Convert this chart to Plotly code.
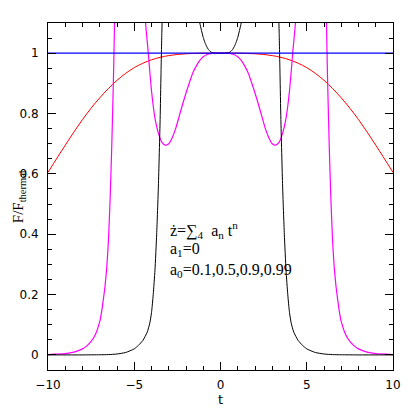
import plotly.graph_objects as go

# blue: a0 = 0.99 (flat)
t_blue = [-10, 10]
f_blue = [1.0, 1.0]

# red: broad curve
t_red = [-10, -9, -8, -7, -6, -5, -4, -3, -2, -1, 0, 1, 2, 3, 4, 5, 6, 7, 8, 9, 10]
f_red = [0.605, 0.695, 0.78, 0.852, 0.91, 0.952, 0.978, 0.992, 0.998, 1.0, 1.0,
         1.0, 0.998, 0.992, 0.978, 0.952, 0.91, 0.852, 0.78, 0.695, 0.605]

# magenta: three branches separated by gaps (None)
t_mag = [-10, -9, -8.5, -8, -7.75, -7.5, -7.25, -7, -6.9, -6.8, -6.7, -6.6, -6.5, -6.4, -6.3, -6.2, -6.15, -6.1,
         None,
         -4.4, -4.3, -4.2, -4.1, -4.0, -3.9, -3.8, -3.6, -3.4, -3.2, -3.0, -2.8, -2.6, -2.4, -2.2, -2.0,
         -1.8, -1.6, -1.4, -1.2, -1.0, -0.8, -0.6, -0.4, -0.2, 0,
         0.2, 0.4, 0.6, 0.8, 1.0, 1.2, 1.4, 1.6, 1.8, 2.0, 2.2, 2.4, 2.6, 2.8, 3.0, 3.2, 3.4, 3.6,
         3.8, 3.9, 4.0, 4.1, 4.2, 4.3, 4.4,
         None,
         6.1, 6.15, 6.2, 6.3, 6.4, 6.5, 6.6, 6.7, 6.8, 6.9, 7, 7.25, 7.5, 7.75, 8, 8.5, 9, 10]
f_mag = [0.001, 0.004, 0.009, 0.02, 0.03, 0.045, 0.068, 0.11, 0.14, 0.18, 0.225, 0.285, 0.375, 0.515, 0.70, 0.93, 1.08, 1.2,
         None,
         1.14, 1.07, 1.01, 0.94, 0.875, 0.825, 0.785, 0.735, 0.705, 0.695, 0.70, 0.72, 0.75, 0.79, 0.83, 0.868,
         0.903, 0.935, 0.958, 0.976, 0.988, 0.995, 0.998, 1.0, 1.0, 1.0,
         1.0, 1.0, 0.998, 0.995, 0.988, 0.976, 0.958, 0.935, 0.903, 0.868, 0.83, 0.79, 0.75, 0.72, 0.70, 0.695, 0.705, 0.735,
         0.785, 0.825, 0.875, 0.94, 1.01, 1.07, 1.14,
         None,
         1.2, 1.08, 0.93, 0.70, 0.515, 0.375, 0.285, 0.225, 0.18, 0.14, 0.11, 0.068, 0.045, 0.03, 0.02, 0.009, 0.004, 0.001]

# black: a0 = 0.1
t_blk = [-10, -8, -7, -6.5, -6, -5.5, -5, -4.75, -4.5, -4.25, -4.1, -4, -3.9, -3.8, -3.7, -3.6, -3.5, -3.45, -3.4, -3.36,
         None,
         -1.26, -1.2, -1.1, -1.0, -0.9, -0.8, -0.7, -0.6, -0.5, -0.4, -0.2, 0,
         0.2, 0.4, 0.5, 0.6, 0.7, 0.8, 0.9, 1.0, 1.1, 1.2, 1.26,
         None,
         3.36, 3.4, 3.45, 3.5, 3.6, 3.7, 3.8, 3.9, 4, 4.1, 4.25, 4.5, 4.75, 5, 5.5, 6, 6.5, 7, 8, 10]
f_blk = [0, 0, 0.0005, 0.001, 0.003, 0.008, 0.02, 0.032, 0.048, 0.075, 0.105, 0.14, 0.2, 0.28, 0.4, 0.56, 0.78, 0.93, 1.07, 1.15,
         None,
         1.13, 1.1, 1.075, 1.052, 1.035, 1.022, 1.012, 1.006, 1.002, 1.001, 1.0, 1.0,
         1.0, 1.001, 1.002, 1.006, 1.012, 1.022, 1.035, 1.052, 1.075, 1.1, 1.13,
         None,
         1.15, 1.07, 0.93, 0.78, 0.56, 0.4, 0.28, 0.2, 0.14, 0.105, 0.075, 0.048, 0.032, 0.02, 0.008, 0.003, 0.001, 0.0005, 0, 0]

x_ticks = [-10, -5, 0, 5, 10]
x_ticktext = ["\u221210", "\u22125", "0", "5", "10"]
y_ticks = [0, 0.2, 0.4, 0.6, 0.8, 1]
y_ticktext = ["0", "0.2", "0.4", "0.6", "0.8", "1"]

fig = go.Figure()
line_kw = dict(mode="lines", hoverinfo="skip", showlegend=False, connectgaps=False)
fig.add_trace(go.Scatter(x=t_red, y=f_red, line=dict(color="red", width=1, shape="spline", smoothing=1), **line_kw))
fig.add_trace(go.Scatter(x=t_mag, y=f_mag, line=dict(color="magenta", width=1.2, shape="spline", smoothing=0.5), **line_kw))
fig.add_trace(go.Scatter(x=t_blk, y=f_blk, line=dict(color="black", width=1, shape="spline", smoothing=0.5), **line_kw))
fig.add_trace(go.Scatter(x=t_blue, y=f_blue, line=dict(color="blue", width=1.2), **line_kw))

axis_kw = dict(
    showgrid=False, zeroline=False, showline=True, linecolor="black", linewidth=1,
    mirror="allticks", ticks="inside", ticklen=8, tickcolor="black", tickwidth=1,
    tickfont=dict(family="DejaVu Sans", size=12, color="black"),
)
fig.update_xaxes(
    range=[-10, 10], tickvals=x_ticks, ticktext=x_ticktext,
    minor=dict(dtick=1, ticks="inside", ticklen=4, tickcolor="black"),
    ticklabelstandoff=4,
    title=dict(text="t", font=dict(family="DejaVu Sans", size=13, color="black"), standoff=3),
    **axis_kw,
)
fig.update_yaxes(
    range=[-0.05, 1.1], tickvals=y_ticks, ticktext=y_ticktext,
    minor=dict(dtick=0.05, ticks="inside", ticklen=4, tickcolor="black"),
    ticklabelstandoff=6,
    **axis_kw,
)

fig.add_annotation(
    text="F/F<sub>thermal</sub>", xref="paper", yref="paper", x=-0.085, y=0.5,
    textangle=-90, showarrow=False, xanchor="center", yanchor="middle",
    font=dict(family="Liberation Serif", size=15, color="black"),
)

notes = [
    ("\u017c=\u2211<sub>4</sub>  a<sub>n</sub> t<sup>n</sup>", 0.415),
    ("a<sub>1</sub>=0", 0.348),
    ("a<sub>0</sub>=0.1,0.5,0.9,0.99", 0.28),
]
for txt, yy in notes:
    fig.add_annotation(
        text=txt, x=-3.05, y=yy, xanchor="left", yanchor="middle", showarrow=False,
        font=dict(family="Liberation Serif", size=16, color="black"),
    )

# page body has an 8px default margin, so shift the plot area up/left by 8px
fig.update_layout(
    width=415, height=415,
    margin=dict(l=37, r=30, t=15, b=53),
    paper_bgcolor="white", plot_bgcolor="white",
)

fig.write_html("out.html")
